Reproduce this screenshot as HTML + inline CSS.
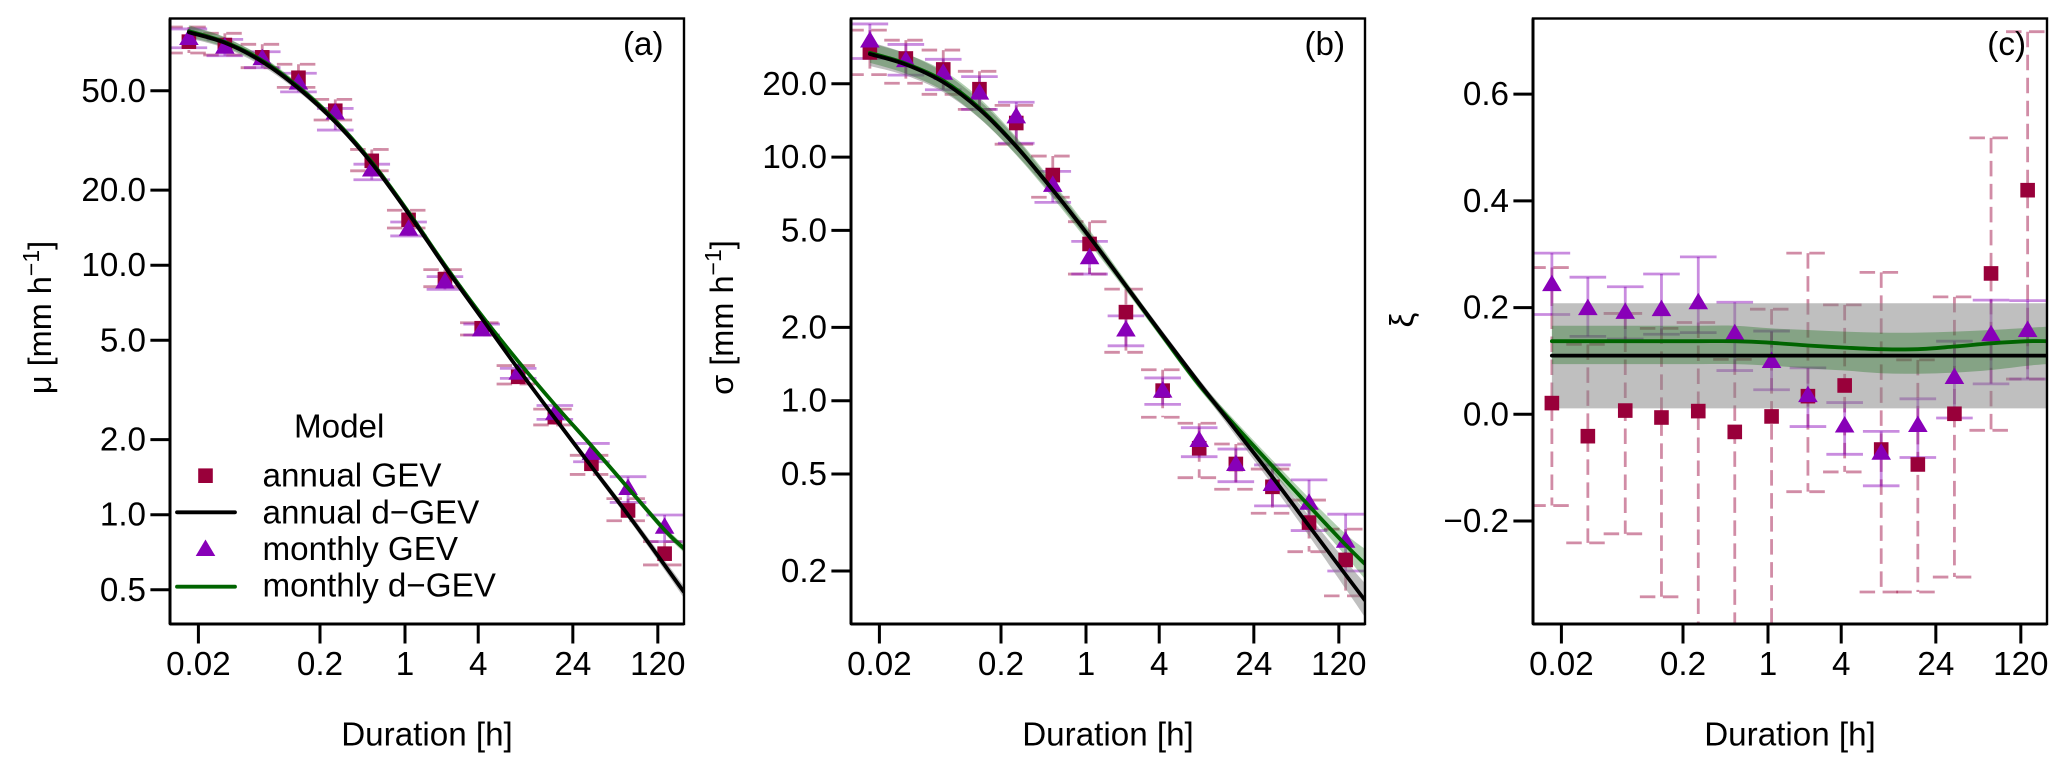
<!DOCTYPE html>
<html lang="en">
<head>
<meta charset="utf-8">
<title>d-GEV parameters versus duration</title>
<style>
html,body{margin:0;padding:0;background:#fff;}
svg{display:block;font-family:"Liberation Sans",Arial,sans-serif;fill:#000;}
text{font-size:33.2px;fill:#000;}
</style>
</head>
<body>
<svg id="figure" xmlns="http://www.w3.org/2000/svg" width="2067" height="770" viewBox="0 0 2067 770">
  <rect x="0" y="0" width="2067" height="770" fill="#fff"/>
  <defs>
    <clipPath id="clip-a"><rect x="170" y="18.5" width="514" height="605.5"/></clipPath>
    <clipPath id="clip-b"><rect x="851" y="18.5" width="514" height="605.5"/></clipPath>
    <clipPath id="clip-c"><rect x="1533" y="18.5" width="514" height="605.5"/></clipPath>
  </defs>
  <g id="panel-a"></g>
  <g id="panel-b"></g>
  <g id="panel-c"></g>

  <text x="663.5" y="55" text-anchor="end">(a)</text>
  <text x="1345" y="55" text-anchor="end">(b)</text>
  <text x="2026" y="55" text-anchor="end">(c)</text>

  <text x="427" y="745.5" text-anchor="middle">Duration [h]</text>
  <text x="1108" y="745.5" text-anchor="middle">Duration [h]</text>
  <text x="1790" y="745.5" text-anchor="middle">Duration [h]</text>

  <text transform="translate(51,317.5) rotate(-90)" text-anchor="middle" style="font-size:32.5px">μ [mm h<tspan dy="-12" style="font-size:23px">−1</tspan><tspan dy="12">]</tspan></text>
  <text transform="translate(733,317.5) rotate(-90)" text-anchor="middle" style="font-size:32.5px">σ [mm h<tspan dy="-12" style="font-size:23px">−1</tspan><tspan dy="12">]</tspan></text>
  <text transform="translate(1413,320) rotate(-90)" text-anchor="middle">ξ</text>

  <g>
    <text x="294" y="437.5">Model</text>
    <rect x="198.2" y="468.4" width="14.6" height="14.6" fill="#99003a"/>
    <text x="262.5" y="486.7">annual GEV</text>
    <line x1="177" x2="235" y1="512.3" y2="512.3" stroke="#000" stroke-width="3.8" stroke-linecap="round"/>
    <text x="262.5" y="523.3">annual d−GEV</text>
    <polygon points="205.5,539.5 215.3,556 195.7,556" fill="#8800b8"/>
    <text x="262.5" y="560">monthly GEV</text>
    <line x1="177" x2="235" y1="586.7" y2="586.7" stroke="#006400" stroke-width="3.8" stroke-linecap="round"/>
    <text x="262.5" y="596.7">monthly d−GEV</text>
  </g>
</svg>

<script>
// ---- shared categories ----
const durations = [0.0167,0.033,0.067,0.133,0.267,0.533,1.07,2.13,4.27,8.53,17.07,34.13,68.27,136.5];
const curveDurations = [0.0167,0.033,0.067,0.133,0.267,0.533,1.07,2.13,4.27,8.53,17.07,34.13,68.27,136.5,196];
const xTickValues = [0.02,0.2,1,4,24,120];
const xTickLabels = ['0.02','0.2','1','4','24','120'];

// ---- panel (a) location ----
const muTickValues = [0.5,1,2,5,10,20,50];
const muTickLabels = ['0.5','1.0','2.0','5.0','10.0','20.0','50.0'];
const muAnnual   = [78.7,76.3,68.1,56.4,41.6,26.2,15.2,8.8,5.59,3.57,2.46,1.60,1.04,0.698];
const muAnnualLo = [70.9,69.6,61.9,51.6,38.2,23.9,14.1,8.2,5.25,3.34,2.29,1.45,0.946,0.629];
const muAnnualHi = [90.1,85.0,76.8,63.9,46.2,29.1,16.6,9.6,5.88,3.96,2.65,1.73,1.16,0.78];
const muMonthly   = [81.4,75.1,67.5,53.9,40.9,24.2,14.0,8.6,5.53,3.71,2.56,1.77,1.28,0.895];
const muMonthlyLo = [74.4,69.1,61.9,49.5,34.8,22.0,13.1,8.0,5.25,3.52,2.41,1.63,1.12,0.78];
const muMonthlyHi = [88.5,80.4,71.7,58.8,42.5,25.4,14.9,9.0,5.81,3.86,2.74,1.93,1.42,0.997];
const muAnnualCurve  = [85.8,77.9,65.4,51.2,37.5,25.6,16.1,9.86,6.14,3.84,2.44,1.56,1.00,0.628,0.491];
const muMonthlyCurve = [86.7,78.4,66.1,51.8,38.0,25.9,16.3,10.0,6.29,4.12,2.76,1.89,1.28,0.868,0.733];
const muAnnualBand  = [1.056,1.05,1.042,1.033,1.028,1.028,1.023,1.018,1.018,1.018,1.028,1.033,1.037,1.047,1.056];
const muMonthlyBand = [1.056,1.047,1.037,1.033,1.028,1.023,1.018,1.018,1.018,1.018,1.023,1.028,1.028,1.033,1.037];

// ---- panel (b) scale ----
const sigmaTickValues = [0.2,0.5,1,2,5,10,20];
const sigmaTickLabels = ['0.2','0.5','1.0','2.0','5.0','10.0','20.0'];
const sigmaAnnual   = [26.9,25.4,22.9,19.0,13.8,8.44,4.40,2.31,1.10,0.638,0.55,0.443,0.316,0.222];
const sigmaAnnualLo = [21.8,20.1,18.1,15.7,11.3,6.84,3.31,1.58,0.855,0.483,0.433,0.345,0.240,0.158];
const sigmaAnnualHi = [33.2,30.2,27.5,22.5,16.3,10.1,5.43,2.87,1.34,0.808,0.664,0.524,0.391,0.297];
const sigmaMonthly   = [30.1,25.0,22.2,18.4,14.7,7.69,3.88,1.96,1.10,0.69,0.55,0.455,0.381,0.266];
const sigmaMonthlyLo = [25.4,21.7,18.9,15.7,11.4,6.52,3.31,1.68,0.966,0.589,0.465,0.37,0.293,0.2];
const sigmaMonthlyHi = [35.2,29.0,25.2,21.4,16.8,8.74,4.51,2.23,1.24,0.775,0.633,0.545,0.473,0.342];
const sigmaAnnualCurve  = [26.5,24.0,20.3,15.7,11.05,7.33,4.70,2.96,1.86,1.18,0.758,0.486,0.306,0.193,0.152];
const sigmaMonthlyCurve = [26.8,24.2,20.6,15.9,11.1,7.33,4.70,2.96,1.84,1.16,0.784,0.539,0.37,0.256,0.214];
const sigmaAnnualBand  = [1.12,1.11,1.099,1.089,1.078,1.058,1.048,1.038,1.038,1.038,1.058,1.078,1.099,1.142,1.174];
const sigmaMonthlyBand = [1.099,1.099,1.099,1.099,1.089,1.078,1.068,1.048,1.038,1.038,1.048,1.058,1.078,1.11,1.152];

// ---- panel (c) shape ----
const xiTickValues = [-0.2,0,0.2,0.4,0.6];
const xiTickLabels = ['−0.2','0.0','0.2','0.4','0.6'];
const xiAnnual   = [0.021,-0.041,0.007,-0.006,0.006,-0.033,-0.004,0.034,0.054,-0.066,-0.094,0.001,0.264,0.42];
const xiAnnualLo = [-0.171,-0.241,-0.224,-0.342,-0.42,-0.46,-0.44,-0.145,-0.108,-0.333,-0.333,-0.305,-0.03,0.066];
const xiAnnualHi = [0.275,0.131,0.189,0.161,0.172,0.103,0.197,0.302,0.205,0.266,0.102,0.22,0.518,0.717];
const xiMonthly   = [0.244,0.199,0.192,0.197,0.21,0.152,0.1,0.036,-0.021,-0.072,-0.02,0.07,0.15,0.158];
const xiMonthlyLo = [0.187,0.146,0.141,0.15,0.153,0.082,0.046,-0.023,-0.075,-0.134,-0.081,-0.007,0.057,0.066];
const xiMonthlyHi = [0.302,0.257,0.239,0.263,0.295,0.21,0.156,0.087,0.022,-0.032,0.029,0.137,0.214,0.213];
const xiAnnualCurve  = [0.11,0.11,0.11,0.11,0.11,0.11,0.11,0.11,0.11,0.11,0.11,0.11,0.11,0.11,0.11];
const xiMonthlyCurve = [0.137,0.137,0.137,0.137,0.137,0.137,0.134,0.129,0.125,0.122,0.122,0.127,0.133,0.137,0.137];
const xiAnnualBandLo = [0.011,0.011,0.011,0.011,0.011,0.011,0.011,0.011,0.011,0.011,0.011,0.011,0.011,0.011,0.011];
const xiAnnualBandHi = [0.208,0.208,0.208,0.208,0.208,0.208,0.208,0.208,0.208,0.208,0.208,0.208,0.208,0.208,0.208];
const xiMonthlyBandLo = [0.094,0.094,0.094,0.094,0.094,0.094,0.091,0.086,0.082,0.077,0.076,0.078,0.083,0.091,0.094];
const xiMonthlyBandHi = [0.166,0.166,0.166,0.166,0.166,0.166,0.161,0.158,0.155,0.153,0.153,0.155,0.158,0.162,0.164];

// ---- axis functions ----
const SVGNS = 'http://www.w3.org/2000/svg';
const TOP = 18.5, BOTTOM = 624, WIDTH = 514;
function xAxis(left){ return d => left + 235.0 + 121.6 * Math.log10(d); }
const yMu = v => 514.7 - 249.5 * Math.log10(v);
const ySigma = v => 400.7 - 243.6 * Math.log10(v);
const yXi = v => 414.3 - 533.6 * v;

function mk(parent, tag, attrs){
  const el = document.createElementNS(SVGNS, tag);
  for (const k in attrs) el.setAttribute(k, attrs[k]);
  parent.appendChild(el);
  return el;
}
function spline(pts){
  let d = 'M' + pts[0][0].toFixed(2) + ' ' + pts[0][1].toFixed(2);
  for (let i = 0; i < pts.length - 1; i++){
    const p0 = pts[Math.max(i-1,0)], p1 = pts[i], p2 = pts[i+1], p3 = pts[Math.min(i+2,pts.length-1)];
    const c1x = p1[0] + (p2[0]-p0[0])/6, c1y = p1[1] + (p2[1]-p0[1])/6;
    const c2x = p2[0] - (p3[0]-p1[0])/6, c2y = p2[1] - (p3[1]-p1[1])/6;
    d += 'C' + c1x.toFixed(2) + ' ' + c1y.toFixed(2) + ' ' + c2x.toFixed(2) + ' ' + c2y.toFixed(2) + ' ' + p2[0].toFixed(2) + ' ' + p2[1].toFixed(2);
  }
  return d;
}
function bandPath(x, y, lo, hi){
  const up = curveDurations.map((d,i) => [x(d), y(hi[i])]);
  const dn = curveDurations.map((d,i) => [x(d), y(lo[i])]).reverse();
  return spline(up) + 'L' + spline(dn).slice(1) + 'Z';
}
function errorBars(g, x, y, est, lo, hi, color, capHalf, dash, name){
  durations.forEach((d,i) => {
    const px = x(d), top = y(hi[i]), bot = y(lo[i]);
    const style = {stroke: color, 'stroke-width': 2.8, fill: 'none'};
    if (dash) style['stroke-dasharray'] = dash;
    const stem = mk(g, 'line', Object.assign({x1: px, x2: px, y1: top, y2: bot}, style));
    
    
    const capT = mk(g, 'line', Object.assign({x1: px-capHalf, x2: px+capHalf, y1: top, y2: top}, style));
    
    
    const capB = mk(g, 'line', Object.assign({x1: px-capHalf, x2: px+capHalf, y1: bot, y2: bot}, style));
    
    
  });
}

function drawPanel(id, clipId, left, yFn, s){
  const root = document.getElementById(id);
  const x = xAxis(left);
  const plot = mk(root, 'g', {'clip-path': 'url(#' + clipId + ')'});
  
  

  errorBars(plot, x, yFn, s.annual, s.annualLo, s.annualHi, 'rgba(153,0,58,0.45)', 21.6, '15.5 7.5', 'annual-gev');
  errorBars(plot, x, yFn, s.monthly, s.monthlyLo, s.monthlyHi, 'rgba(136,0,184,0.45)', 18.3, null, 'monthly-gev');

  const grayBand = mk(plot, 'path', {d: bandPath(x, yFn, s.annualBandLo, s.annualBandHi), fill: 'rgba(128,128,128,0.5)', stroke: 'none'});
  
  
  const greenBand = mk(plot, 'path', {d: bandPath(x, yFn, s.monthlyBandLo, s.monthlyBandHi), fill: 'rgba(0,100,0,0.3)', stroke: 'none'});
  
  

  durations.forEach((d,i) => {
    const sq = mk(plot, 'rect', {x: x(d)-7.3, y: yFn(s.annual[i])-7.3, width: 14.6, height: 14.6, fill: '#99003a'});
    
    
  });
  durations.forEach((d,i) => {
    const px = x(d), py = yFn(s.monthly[i]);
    const tri = mk(plot, 'polygon', {points: px + ',' + (py-9.5) + ' ' + (px+9.8) + ',' + (py+7) + ' ' + (px-9.8) + ',' + (py+7), fill: '#8800b8'});
    
    
  });

  const green = mk(plot, 'path', {d: spline(curveDurations.map((d,i) => [x(d), yFn(s.monthlyCurve[i])])), fill: 'none', stroke: '#006400', 'stroke-width': 3.8, 'stroke-linecap': 'round'});
  
  
  const black = mk(plot, 'path', {d: spline(curveDurations.map((d,i) => [x(d), yFn(s.annualCurve[i])])), fill: 'none', stroke: '#000', 'stroke-width': 3.8, 'stroke-linecap': 'round'});
  
  

  const box = mk(root, 'rect', {x: left, y: TOP, width: WIDTH, height: BOTTOM-TOP, fill: 'none', stroke: '#000', 'stroke-width': 2.4});
  
  
  const yLine = mk(root, 'line', {x1: left, x2: left, y1: TOP, y2: BOTTOM, stroke: '#000', 'stroke-width': 3});
  
  
  const xLine = mk(root, 'line', {x1: left, x2: left+WIDTH, y1: BOTTOM, y2: BOTTOM, stroke: '#000', 'stroke-width': 3});
  
  

  xTickValues.forEach((d,i) => {
    const t = mk(root, 'line', {x1: x(d), x2: x(d), y1: BOTTOM, y2: 643.5, stroke: '#000', 'stroke-width': 3});
    
    
    const lab = mk(root, 'text', {x: x(d), y: 675, 'text-anchor': 'middle'});
    
    
    lab.textContent = xTickLabels[i];
  });
  s.tickValues.forEach((v,i) => {
    const py = yFn(v);
    const t = mk(root, 'line', {x1: left-19.6, x2: left, y1: py, y2: py, stroke: '#000', 'stroke-width': 3});
    
    
    const lab = mk(root, 'text', {x: left-24, y: py+11, 'text-anchor': 'end'});
    
    
    lab.textContent = s.tickLabels[i];
  });
}

function ratioBand(curve, ratio, up){
  return curve.map((v,i) => up ? v*ratio[i] : v/ratio[i]);
}

drawPanel('panel-a', 'clip-a', 170, yMu, {
  tickValues: muTickValues, tickLabels: muTickLabels,
  annual: muAnnual, annualLo: muAnnualLo, annualHi: muAnnualHi,
  monthly: muMonthly, monthlyLo: muMonthlyLo, monthlyHi: muMonthlyHi,
  annualCurve: muAnnualCurve, monthlyCurve: muMonthlyCurve,
  annualBandLo: ratioBand(muAnnualCurve, muAnnualBand, false), annualBandHi: ratioBand(muAnnualCurve, muAnnualBand, true),
  monthlyBandLo: ratioBand(muMonthlyCurve, muMonthlyBand, false), monthlyBandHi: ratioBand(muMonthlyCurve, muMonthlyBand, true)
});
drawPanel('panel-b', 'clip-b', 851, ySigma, {
  tickValues: sigmaTickValues, tickLabels: sigmaTickLabels,
  annual: sigmaAnnual, annualLo: sigmaAnnualLo, annualHi: sigmaAnnualHi,
  monthly: sigmaMonthly, monthlyLo: sigmaMonthlyLo, monthlyHi: sigmaMonthlyHi,
  annualCurve: sigmaAnnualCurve, monthlyCurve: sigmaMonthlyCurve,
  annualBandLo: ratioBand(sigmaAnnualCurve, sigmaAnnualBand, false), annualBandHi: ratioBand(sigmaAnnualCurve, sigmaAnnualBand, true),
  monthlyBandLo: ratioBand(sigmaMonthlyCurve, sigmaMonthlyBand, false), monthlyBandHi: ratioBand(sigmaMonthlyCurve, sigmaMonthlyBand, true)
});
drawPanel('panel-c', 'clip-c', 1533, yXi, {
  tickValues: xiTickValues, tickLabels: xiTickLabels,
  annual: xiAnnual, annualLo: xiAnnualLo, annualHi: xiAnnualHi,
  monthly: xiMonthly, monthlyLo: xiMonthlyLo, monthlyHi: xiMonthlyHi,
  annualCurve: xiAnnualCurve, monthlyCurve: xiMonthlyCurve,
  annualBandLo: xiAnnualBandLo, annualBandHi: xiAnnualBandHi,
  monthlyBandLo: xiMonthlyBandLo, monthlyBandHi: xiMonthlyBandHi
});
</script>
</body>
</html>
